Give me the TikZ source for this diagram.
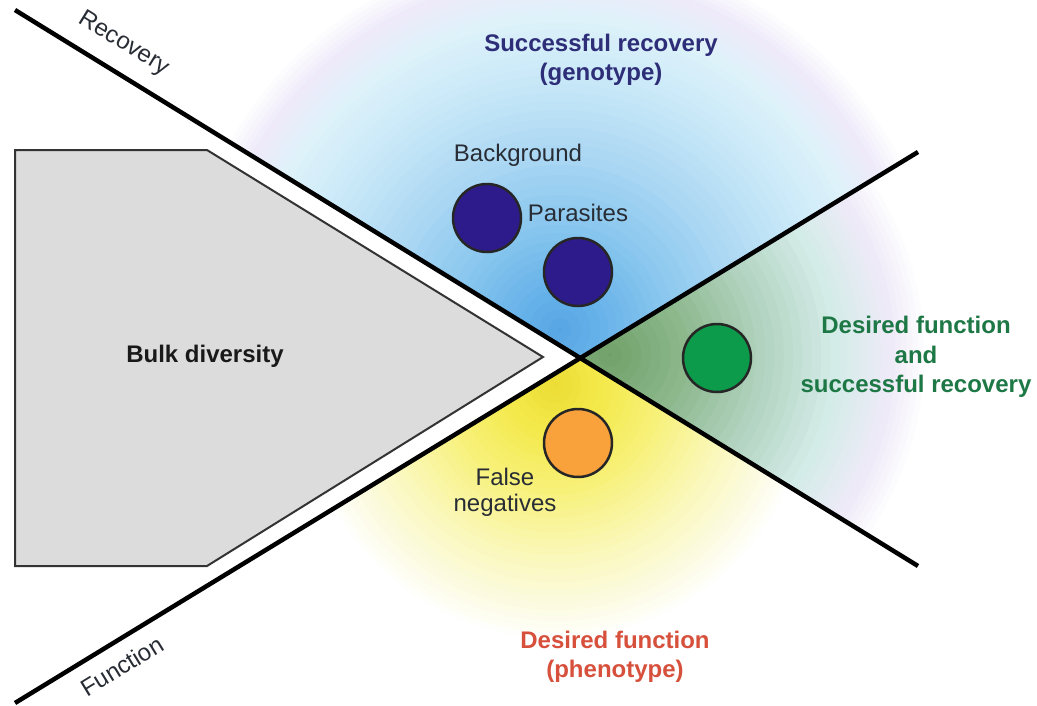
\documentclass[tikz,border=0pt]{standalone}
\usepackage{fontspec}
\setmainfont{Liberation Sans}
\definecolor{gLav}{RGB}{238,234,250}
\definecolor{gCyA}{RGB}{222,242,250}
\definecolor{gCyB}{RGB}{200,232,248}
\definecolor{gBA}{RGB}{172,216,243}
\definecolor{gBB}{RGB}{134,197,238}
\definecolor{gBC}{RGB}{100,176,232}
\definecolor{gBD}{RGB}{86,164,228}
\definecolor{yA}{RGB}{252,251,226}
\definecolor{yB}{RGB}{250,247,180}
\definecolor{yC}{RGB}{247,241,122}
\definecolor{yD}{RGB}{243,233,74}
\definecolor{yE}{RGB}{236,220,52}
\definecolor{nA}{RGB}{238,234,248}
\definecolor{nB}{RGB}{212,236,232}
\definecolor{nC}{RGB}{176,210,190}
\definecolor{nD}{RGB}{140,184,140}
\definecolor{nE}{RGB}{112,160,104}
\definecolor{indigo}{RGB}{45,27,140}
\definecolor{dgreen}{RGB}{11,155,74}
\definecolor{orng}{RGB}{249,162,59}
\definecolor{bulkgray}{RGB}{220,220,220}
\definecolor{txtblue}{RGB}{45,45,120}
\definecolor{txtgreen}{RGB}{30,120,70}
\definecolor{txtred}{RGB}{215,80,60}
\definecolor{txtdark}{RGB}{40,44,52}
\newcommand\gring[7]{%
  \foreach \j in {0,...,#7}{%
    \pgfmathsetmacro\rr{#3+(#4-#3)*\j/#7}%
    \pgfmathtruncatemacro\pp{100*\j/#7}%
    \fill[#6!\pp!#5] (#1,#2) circle[radius=\rr pt];
  }}
\tikzset{
  axisline/.style={line width=4.5pt, black},
  dot/.style={circle, draw=black!85, line width=2.5pt, minimum size=68pt, inner sep=0pt},
  lbl/.style={font=\fontsize{24}{30}\selectfont, align=center, inner sep=0pt},
  boldlbl/.style={lbl, font=\fontsize{24}{29.5}\selectfont\bfseries},
}
\begin{document}
\begin{tikzpicture}[x=1pt,y=-1pt]
\useasboundingbox (0,0) rectangle (1037,705);
\fill[white] (0,0) rectangle (1037,705);
\coordinate (C) at (580,358);
\coordinate (rA) at (15,10);
\coordinate (rB) at (918,566);
\coordinate (fA) at (15,703);
\coordinate (fB) at (918,152);
% upper glow
\begin{scope}
  \clip (580,358) -- (-1115,-686) -- (-1115,-1000) -- (1594,-1000) -- (1594,-260) -- cycle;
  \gring{560}{330}{385}{355}{white}{gLav}{6}
  \gring{560}{330}{355}{315}{gLav}{gCyA}{6}
  \gring{560}{330}{315}{255}{gCyA}{gCyB}{8}
  \gring{560}{330}{255}{185}{gCyB}{gBA}{8}
  \gring{560}{330}{185}{105}{gBA}{gBB}{8}
  \gring{560}{330}{105}{40}{gBB}{gBC}{8}
  \gring{560}{330}{40}{2}{gBC}{gBD}{4}
\end{scope}
% right glow
\begin{scope}
  \clip (580,358) -- (1594,-260) -- (1594,982) -- cycle;
  \gring{610}{355}{320}{285}{white}{nA}{6}
  \gring{610}{355}{285}{230}{nA}{nB}{8}
  \gring{610}{355}{230}{155}{nB}{nC}{8}
  \gring{610}{355}{155}{80}{nC}{nD}{8}
  \gring{610}{355}{80}{2}{nD}{nE}{8}
\end{scope}
% lower glow
\begin{scope}
  \clip (580,358) -- (1594,982) -- (1594,1400) -- (-1115,1400) -- (-1115,1393) -- cycle;
  \gring{555}{385}{258}{225}{white}{yA}{6}
  \gring{555}{385}{225}{170}{yA}{yB}{8}
  \gring{555}{385}{170}{110}{yB}{yC}{8}
  \gring{555}{385}{110}{50}{yC}{yD}{8}
  \gring{555}{385}{50}{2}{yD}{yE}{6}
\end{scope}
% bulk pentagon
\draw[fill=bulkgray, draw=black!80, line width=2pt, line join=miter]
  (15,150) -- (207,150) -- (543,357) -- (207,566) -- (15,566) -- cycle;
\node[boldlbl, text=black!90] (bulk) at (205,356) {Bulk diversity};
% axis lines
\draw[axisline] (rA) -- (rB);
\draw[axisline] (fA) -- (fB);
\node[lbl, rotate=-31.6, text=txtdark] (rec) at (124,44) {Recovery};
\node[lbl, rotate=31.4, text=txtdark] (fun) at (122,666) {Function};
% dots
\node[dot, fill=indigo] (bg) at (487,218) {};
\node[dot, fill=indigo] (par) at (578,272) {};
\node[dot, fill=dgreen] (des) at (717,358) {};
\node[dot, fill=orng] (fn) at (578,443) {};
\node[lbl, text=txtdark] (bglbl) at (518,155) {Background};
\node[lbl, text=txtdark] (parlbl) at (578,213) {Parasites};
\node[lbl, text=txtdark, font=\fontsize{24}{26}\selectfont] (fnlbl) at (505,492) {False\\negatives};
% region labels
\node[boldlbl, text=txtblue] (geno) at (601,60) {Successful recovery\\(genotype)};
\node[boldlbl, text=txtgreen] (both) at (916,357) {Desired function\\and\\successful recovery};
\node[boldlbl, text=txtred] (pheno) at (615,657) {Desired function\\(phenotype)};
\end{tikzpicture}
\end{document}
